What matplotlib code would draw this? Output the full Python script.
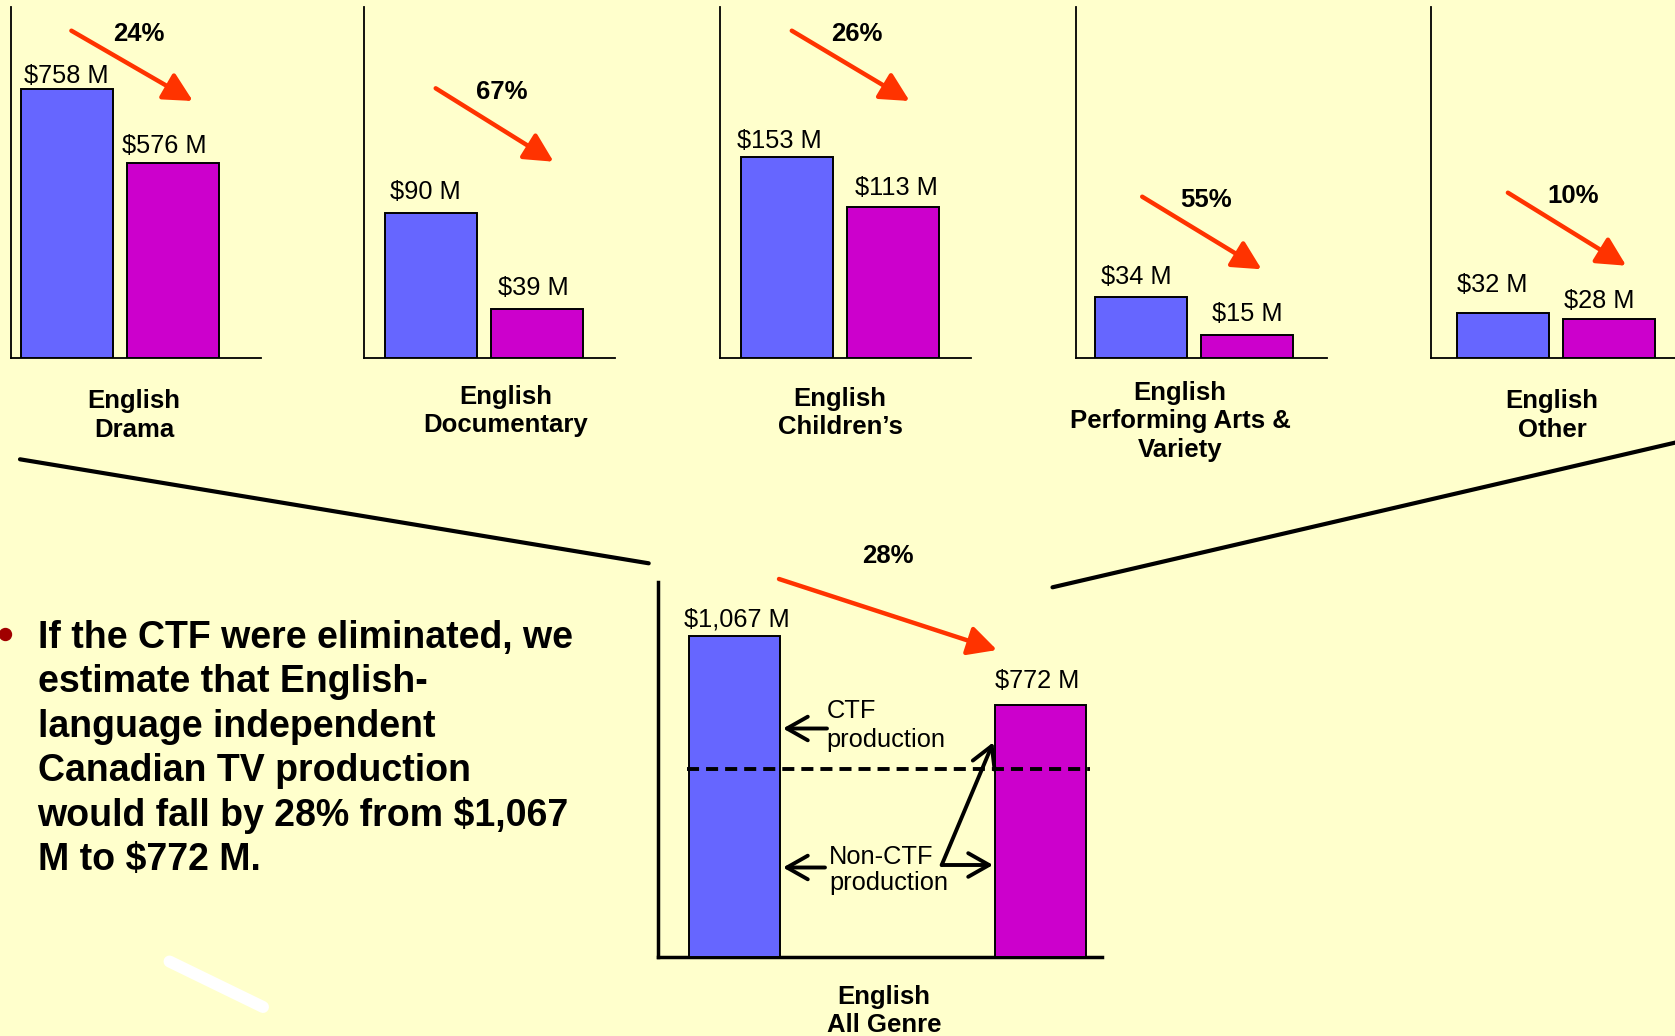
import matplotlib
matplotlib.use("Agg")
import matplotlib.pyplot as plt
from matplotlib.patches import FancyArrowPatch

plt.rcParams['font.family'] = ['Liberation Sans', 'DejaVu Sans']

# ---------------- data ----------------
genres = ["English\nDrama", "English\nDocumentary", "English\nChildren\u2019s",
          "English\nPerforming Arts &\nVariety", "English\nOther"]
with_ctf = [758, 90, 153, 34, 32]          # $M, with CTF
without_ctf = [576, 39, 113, 15, 28]       # $M, CTF eliminated
pct_drop = ["24%", "67%", "26%", "55%", "10%"]

all_genre_label = "English\nAll Genre"
all_genre_with = 1067
all_genre_without = 772
all_genre_pct = "28%"
all_genre_non_ctf = 498                    # level of the dashed CTF / non-CTF split

bullet_lines = ["If the CTF were eliminated, we",
                "estimate that English-",
                "language independent",
                "Canadian TV production",
                "would fall by 28% from $1,067",
                "M to $772 M."]

# ---------------- layout / style ----------------
W, H = 1675, 1036
BG = "#FFFFCC"
BLUE = "#6666FF"
MAGENTA = "#CC00CC"
RED = "#FF3300"

fig = plt.figure(figsize=(W / 100, H / 100), dpi=100)
fig.patch.set_facecolor(BG)


def rect(x0, y0, x1, y1):
    return [x0 / W, 1 - y1 / H, (x1 - x0) / W, (y1 - y0) / H]


# small panels (pixel layout)
p_top, p_base = 6.7, 357.5
p_left = [10.7, 364.3, 720.4, 1076.4, 1430.7]
p_right = [260.7, 615.0, 971.0, 1327.0, 1680.0]
p_blue_c = [66.6, 430.7, 786.8, 1140.75, 1502.5]
bar_step, bar_w = 106.0, 92.0
# per-panel y-axis floor and pixels per $M (the original axes are not zero based)
y_floor = [98.4, 13.4, -7.6, 3.8, 2.5]
px_per_unit = [0.4066, 1.882, 1.25, 2.016, 1.5]

for i in range(5):
    ax = fig.add_axes(rect(p_left[i], p_top, p_right[i], p_base))
    ax.set_facecolor("none")
    fl = y_floor[i]
    vals = [with_ctf[i], without_ctf[i]]
    ax.bar([0, 1], [v - fl for v in vals], bottom=fl, width=bar_w / bar_step,
           color=[BLUE, MAGENTA], edgecolor="black", linewidth=1.4, zorder=3)
    ax.set_xlim((p_left[i] - p_blue_c[i]) / bar_step, (p_right[i] - p_blue_c[i]) / bar_step)
    ax.set_ylim(fl, fl + (p_base - p_top) / px_per_unit[i])
    for s in ["top", "right"]:
        ax.spines[s].set_visible(False)
    for s in ["left", "bottom"]:
        ax.spines[s].set_linewidth(1.3)
        ax.spines[s].set_color("black")
    ax.set_xticks([])
    ax.set_yticks([])

# big panel
b_left, b_top, b_right, b_base = 658, 581.7, 1101.7, 957
b_step = 306.0
b_floor, b_ppu = -305.4, 0.2339
axb = fig.add_axes(rect(b_left, b_top, b_right, b_base))
axb.set_facecolor("none")
bvals = [all_genre_with, all_genre_without]
axb.bar([0, 1], [v - b_floor for v in bvals], bottom=b_floor, width=91 / b_step,
        color=[BLUE, MAGENTA], edgecolor="black", linewidth=1.4, zorder=3)
axb.set_xlim((b_left - 734.5) / b_step, (b_right - 734.5) / b_step)
axb.set_ylim(b_floor, b_floor + (b_base - b_top) / b_ppu)
axb.plot([-0.155, 1.162], [all_genre_non_ctf, all_genre_non_ctf], color="black",
         lw=2.8, dashes=(3.1, 1.8), zorder=4)
for s in ["top", "right"]:
    axb.spines[s].set_visible(False)
for s in ["left", "bottom"]:
    axb.spines[s].set_linewidth(2.5)
axb.set_xticks([])
axb.set_yticks([])

# overlay in pixel coordinates
ov = fig.add_axes([0, 0, 1, 1])
ov.set_xlim(0, W)
ov.set_ylim(H, 0)
ov.axis("off")
ov.patch.set_alpha(0)

VAL_FS = 18.3
LAB_FS = 18.5

val_pos = [[(66.6, 82.7), (164.8, 152.7)],
           [(425.5, 199.0), (533.0, 295.0)],
           [(779.3, 148.3), (896.8, 195.0)],
           [(1135.9, 284.3), (1247.8, 320.7)],
           [(1492.0, 292.3), (1599.7, 308.3)]]
pct_pos = [(138.6, 40.7), (501.8, 98.7), (856.8, 40.7), (1206.4, 206.7), (1573.2, 202.7)]
arrows = [((71.4, 30.7), (192.9, 101.0)),
          ((435.7, 88.3), (553.6, 161.7)),
          ((791.8, 30.7), (909.6, 101.0)),
          ((1142.2, 196.7), (1261.6, 269.3)),
          ((1507.9, 192.7), (1626.2, 265.7))]
lab_pos = [(134, 408.3), (506, 404.0), (840, 406.0), (1180, 400.0), (1552, 408.3)]
lab_step = 28.3


def red_arrow(p0, p1):
    ov.add_patch(FancyArrowPatch(p0, p1, arrowstyle="-|>,head_length=17.5,head_width=9",
                                 mutation_scale=1, color=RED, lw=3.2,
                                 shrinkA=0, shrinkB=0, zorder=5))


for i in range(5):
    for j, v in enumerate([with_ctf[i], without_ctf[i]]):
        x, y = val_pos[i][j]
        ov.text(x, y, f"${v:,} M", fontsize=VAL_FS, ha="center", va="baseline")
    ov.text(*pct_pos[i], pct_drop[i], fontsize=LAB_FS, fontweight="bold",
            ha="center", va="baseline")
    red_arrow(*arrows[i])
    for k, line in enumerate(genres[i].split("\n")):
        ov.text(lab_pos[i][0], lab_pos[i][1] + k * lab_step, line, fontsize=LAB_FS,
                fontweight="bold", ha="center", va="baseline")

# big panel annotations
ov.text(737, 626, f"${all_genre_with:,} M", fontsize=VAL_FS, ha="center", va="baseline")
ov.text(1037, 687.7, f"${all_genre_without:,} M", fontsize=VAL_FS, ha="center", va="baseline")
ov.text(888, 562.7, all_genre_pct, fontsize=LAB_FS, fontweight="bold", ha="center", va="baseline")
red_arrow((779, 579), (997, 650))
for k, line in enumerate(all_genre_label.split("\n")):
    ov.text(884, 1004 + k * 27.7, line, fontsize=LAB_FS, fontweight="bold",
            ha="center", va="baseline")

ov.text(826.7, 718.3, "CTF", fontsize=VAL_FS, ha="left", va="baseline")
ov.text(826.7, 746.7, "production", fontsize=VAL_FS, ha="left", va="baseline")
ov.text(829, 864, "Non-CTF", fontsize=VAL_FS, ha="left", va="baseline")
ov.text(829, 890, "production", fontsize=VAL_FS, ha="left", va="baseline")


def black_arrow(p0, p1):
    ov.add_patch(FancyArrowPatch(p0, p1, arrowstyle="->,head_length=15,head_width=8.5",
                                 mutation_scale=1, color="black", lw=2.8,
                                 shrinkA=0, shrinkB=0, zorder=6))


black_arrow((827, 728.5), (783, 728.5))
black_arrow((825, 867.5), (783, 867.5))
black_arrow((941.7, 865), (993, 865))
black_arrow((941.7, 865), (993.3, 742.3))

# connector lines
ov.plot([20, 648.7], [459.3, 563.3], color="black", lw=3, solid_capstyle="round")
ov.plot([1052.5, 1680], [587.3, 441.5], color="black", lw=3, solid_capstyle="round")

# bullet text
ov.plot([5], [634], "o", color="#A00000", markersize=8.6)
for k, line in enumerate(bullet_lines):
    ov.text(37.5, 648 + k * 44.4, line, fontsize=27, fontweight="bold",
            ha="left", va="baseline")

# white stroke
ov.plot([169.5, 263], [961.5, 1007], color="white", lw=8.6, solid_capstyle="round")

fig.savefig("out.png", dpi=100, facecolor=BG)
